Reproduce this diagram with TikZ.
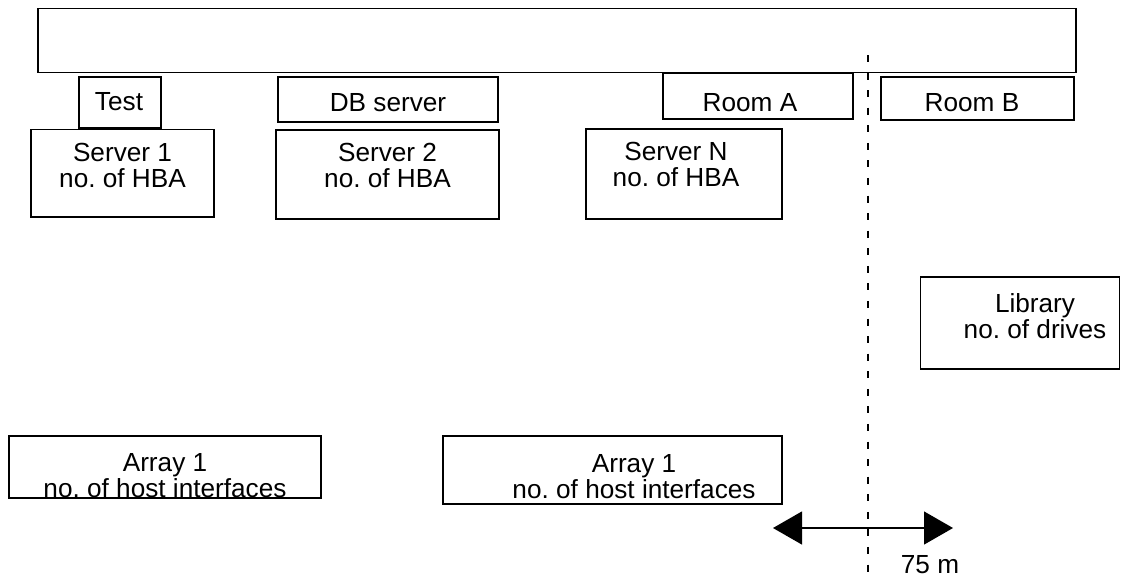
\documentclass[tikz,border=0pt]{standalone}
\usepackage{fontspec}
\setsansfont{Liberation Sans}
\usepackage{tikz}
\usetikzlibrary{arrows.meta,positioning}
\frenchspacing

\begin{document}
\begin{tikzpicture}
	[x=0.02cm, y=-0.02cm, font=\sffamily\fontsize{14.9pt}{14.8pt}\selectfont, line width=0.7pt,
	box/.style	= {rectangle, draw, inner sep=0pt},
	lbl/.style	= {inner sep=0pt, align=center, anchor=north},
	cut/.style	= {dash pattern=on 4pt off 6pt},
	dist/.style	= {{Triangle[length=5.8mm, width=6.6mm]}-{Triangle[length=5.8mm, width=6.6mm]}}]

	\useasboundingbox (0,0) rectangle (1121,582);

	% fabric on top
	\node at (557, 40.5)	[box, minimum width=20.76cm, minimum height=1.29cm]	(fabric)	{};

	% small tags under the fabric
	\node at (120, 102.5)	[box, minimum width=1.64cm, minimum height=1.02cm]	(test)	{};
	\node at (388, 99.5)	[box, minimum width=4.4cm, minimum height=0.9cm]	(dbsrv)	{};
	\node at (758, 96)		[box, minimum width=3.8cm, minimum height=0.92cm]	(rooma)	{};
	\node at (977.5, 98.5)	[box, minimum width=3.86cm, minimum height=0.86cm]	(roomb)	{};

	\node at (119, 92)		[lbl]	(testtxt)	{Test};
	\node at (388, 93)		[lbl]	(dbsrvtxt)	{DB server};
	\node at (750, 93)		[lbl]	(roomatxt)	{Room A};
	\node at (972, 93)		[lbl]	(roombtxt)	{Room B};

	% servers
	\node at (122.5, 173.3)	[box, minimum width=3.66cm, minimum height=1.75cm]	(srv1)	{};
	\node at (387.5, 174.5)	[box, minimum width=4.46cm, minimum height=1.78cm]	(srv2)	{};
	\node at (684, 174)		[box, minimum width=3.92cm, minimum height=1.8cm]	(srvn)	{};

	\node at (122.5, 142.5)	[lbl]	(srv1txt)	{Server 1\\no. of HBA};
	\node at (387.5, 142.5)	[lbl]	(srv2txt)	{Server 2\\no. of HBA};
	\node at (676, 142)		[lbl]	(srvntxt)	{Server N\\no. of HBA};

	% library and arrays
	\node at (1020.25, 323)	[box, minimum width=3.98cm, minimum height=1.84cm]	(lib)	{};
	\node at (165, 467)		[box, minimum width=6.24cm, minimum height=1.24cm]	(arr1)	{};
	\node at (612.5, 470)	[box, minimum width=6.78cm, minimum height=1.36cm]	(arr2)	{};

	\node at (1035, 293)	[lbl]	(libtxt)	{Library\\no. of drives};
	\node at (165, 453)		[lbl]	(arr1txt)	{Array 1\\no. of host interfaces};
	\node at (634, 454)		[lbl]	(arr2txt)	{Array 1\\no. of host interfaces};

	% room border and distance
	\coordinate (cuttop) at (868, 55);
	\coordinate (cutbot) at (868, 582);
	\draw [cut] (cuttop) -- (cutbot);

	\coordinate (distl) at (773, 528);
	\coordinate (distr) at (953, 528);
	\draw [dist] (distl) -- (distr);
	\node at (930, 555)		[lbl]	(disttxt)	{75 m};

\end{tikzpicture}
\end{document}
